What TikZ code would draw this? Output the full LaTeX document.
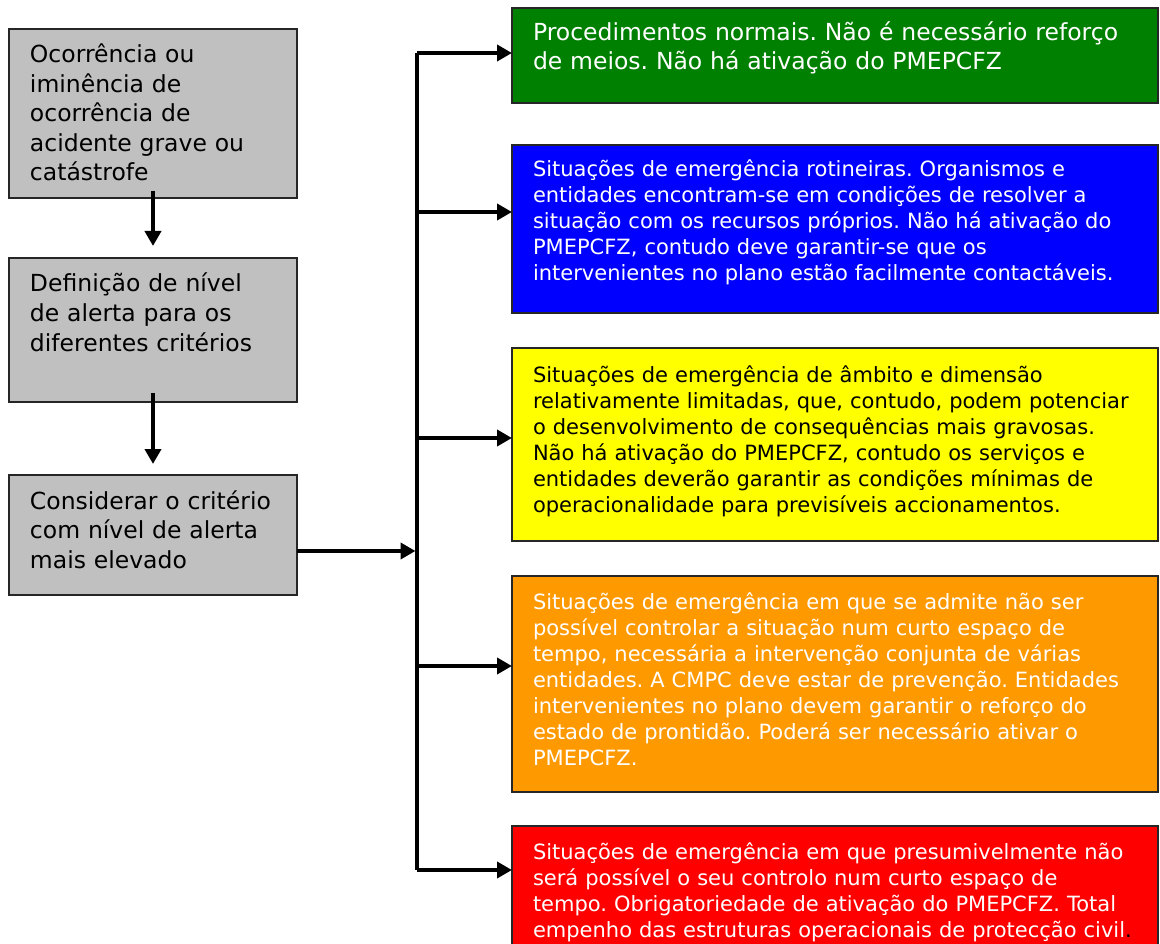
\documentclass[tikz,border=0pt]{standalone}
\usepackage{fontspec}
\setmainfont{DejaVu Sans}
\usetikzlibrary{arrows.meta,calc}
\definecolor{boxgray}{HTML}{C0C0C0}
\definecolor{lvgreen}{HTML}{008000}
\definecolor{lvblue}{HTML}{0000FF}
\definecolor{lvyellow}{HTML}{FFFF00}
\definecolor{lvorange}{HTML}{FF9900}
\definecolor{lvred}{HTML}{FF0000}
\frenchspacing
\tikzset{
  stepbox/.style={draw=black!85,line width=1.5pt,anchor=north west,outer sep=0pt,inner ysep=0pt,align=left}, % any box
  lbox/.style={stepbox,fill=boxgray,inner xsep=21pt,text width=246pt,font=\fontsize{23.5}{29.5}\selectfont}, % left column
  rbox/.style={stepbox,inner xsep=21pt,text width=604pt,text=white,font=\fontsize{21}{26}\selectfont},       % alert levels
  flow/.style={-{Triangle[length=15pt,width=16pt]},line width=4pt},
  bus/.style={line width=4pt},
}

\begin{document}
\begin{tikzpicture}[x=1pt,y=-1pt]
  \useasboundingbox (0,0) rectangle (1160,944);
  \clip (0,0) rectangle (1160,944);
  % left column
  \node[lbox,text height=34pt,text depth=135pt] (occ) at (9,29) {Ocorrência ou\\iminência de\\ocorrência de\\acidente grave ou\\catástrofe};
  \node[lbox,text height=34pt,text depth=110pt] (def) at (9,258) {Definição de nível\\de alerta para os\\diferentes critérios};
  \node[lbox,text height=34pt,text depth=86pt] (crit) at (9,475) {Considerar o critério\\com nível de alerta\\mais elevado};
  % alert levels
  \node[rbox,fill=lvgreen,text height=33pt,text depth=62pt,font=\fontsize{23.5}{29}\selectfont] (lv1) at (512,8)
    {Procedimentos normais. Não é necessário reforço\\de meios. Não há ativação do PMEPCFZ};
  \node[rbox,fill=lvblue,text height=32pt,text depth=136pt] (lv2) at (512,145)
    {Situações de emergência rotineiras. Organismos e\\entidades encontram-se em condições de resolver a\\situação com os recursos próprios. Não há ativação do\\PMEPCFZ, contudo deve garantir-se que os\\intervenientes no plano estão facilmente contactáveis.};
  \node[rbox,fill=lvyellow,text=black,text height=34pt,text depth=159pt] (lv3) at (512,348)
    {Situações de emergência de âmbito e dimensão\\relativamente limitadas, que, contudo, podem potenciar\\o desenvolvimento de consequências mais gravosas.\\Não há ativação do PMEPCFZ, contudo os serviços e\\entidades deverão garantir as condições mínimas de\\operacionalidade para previsíveis accionamentos.};
  \node[rbox,fill=lvorange,text height=33pt,text depth=183pt] (lv4) at (512,576)
    {Situações de emergência em que se admite não ser\\possível controlar a situação num curto espaço de\\tempo, necessária a intervenção conjunta de várias\\entidades. A CMPC deve estar de prevenção. Entidades\\intervenientes no plano devem garantir o reforço do\\estado de prontidão. Poderá ser necessário ativar o\\PMEPCFZ.};
  \node[rbox,fill=lvred,text height=33pt,text depth=150pt] (lv5) at (512,826)
    {Situações de emergência em que presumivelmente não\\será possível o seu controlo num curto espaço de\\tempo. Obrigatoriedade de ativação do PMEPCFZ. Total\\empenho das estruturas operacionais de protecção civil\textcolor{black}{.}};
  % connectors
  \draw[flow,shorten <=-7pt,shorten >=12pt] (occ.south) -- (def.north);
  \draw[flow,shorten <=-9pt,shorten >=11pt] (def.south) -- (crit.north);
  \coordinate (bt) at (417,53);
  \coordinate (bb) at (417,870);
  \coordinate (bm) at (417,551);
  \draw[bus] (bt) -- (bb);
  \draw[flow,shorten >=1.5pt] (crit.east |- bm) -- (bm);
  \foreach \y/\n in {53/lv1,212/lv2,438/lv3,666/lv4,870/lv5}{
    \coordinate (tap\n) at (417,\y);
    \draw[flow] (tap\n) -- (tap\n -| \n.west);
  }
\end{tikzpicture}
\end{document}
